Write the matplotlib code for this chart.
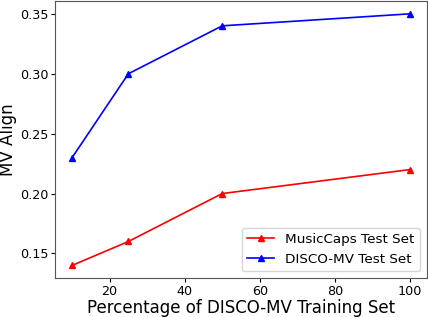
import matplotlib
matplotlib.use("Agg")
import matplotlib.pyplot as plt

# percentage of DISCO-MV training set
pct = [10, 25, 50, 100]
musiccaps = [0.14, 0.16, 0.20, 0.22]
disco_mv = [0.23, 0.30, 0.34, 0.35]

fig, ax = plt.subplots(figsize=(4.28, 3.17), dpi=100)
fig.subplots_adjust(left=0.129, right=0.997, top=0.996, bottom=0.123)

ax.plot(pct, musiccaps, color="red", marker="^", markersize=5, linewidth=1.2, label="MusicCaps Test Set")
ax.plot(pct, disco_mv, color="blue", marker="^", markersize=5, linewidth=1.2, label="DISCO-MV Test Set")

ax.set_xlabel("Percentage of DISCO-MV Training Set", fontsize=12, labelpad=1)
ax.set_ylabel("MV Align", fontsize=12, labelpad=2)
ax.tick_params(labelsize=9.2, length=3, pad=2)
ax.set_xticks([20, 40, 60, 80, 100])
ax.set_yticks([0.15, 0.20, 0.25, 0.30, 0.35])
for s in ax.spines.values():
    s.set_color("#555555")
ax.legend(loc="lower right", fontsize=9.7)

fig.savefig("out.png", dpi=100)
